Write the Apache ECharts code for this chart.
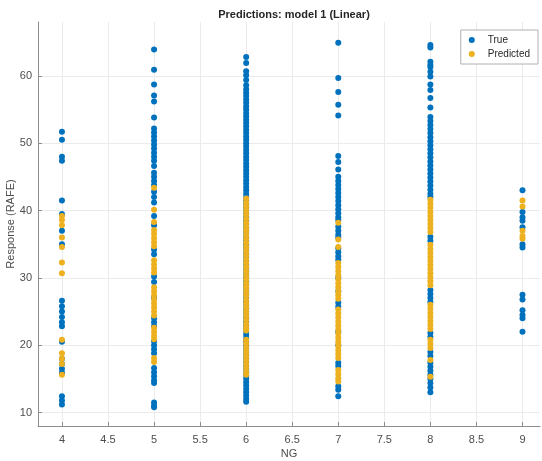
<!DOCTYPE html>
<html>
<head>
<meta charset="utf-8">
<script src="https://cdn.jsdelivr.net/npm/echarts@6/dist/echarts.min.js"></script>
<style>html,body{margin:0;padding:0;background:#fff;}#c{width:542px;height:461px;}</style>
</head>
<body>
<div id="c"></div>
<script>
const xTicks = [4, 4.5, 5, 5.5, 6, 6.5, 7, 7.5, 8, 8.5, 9];
const yTicks = [10, 20, 30, 40, 50, 60];

const trueX4 = [51.7, 50.5, 48.0, 47.4, 41.5, 39.5, 37.0, 35.0, 26.6, 25.8, 25.0, 24.2, 23.4, 22.8, 20.5, 18.0, 17.2, 16.5, 15.9, 12.4, 11.8, 11.2];
const predX4 = [39.2, 38.6, 37.8, 36.0, 34.6, 32.3, 30.7, 20.8, 18.8, 18.0, 17.2, 15.6];

const trueX5 = [63.9, 60.9, 58.7, 57.1, 56.2, 53.8, 52.2, 51.6, 51.0, 50.4, 49.8, 49.2, 48.6, 48.0, 47.4, 46.6, 45.6, 45.0, 44.4, 43.8, 42.8, 42.0, 41.2, 39.2, 37.8, 34.2, 33.5, 30.2, 29.4, 27.0, 24.0, 23.4, 22.8, 20.6, 20.0, 19.4, 18.8, 16.6, 16.0, 15.4, 14.8, 14.4, 11.5, 11.0, 10.8];
const predX5 = [43.4, 40.1, 38.3, 37.1, 36.5, 35.9, 35.3, 34.7, 32.6, 32.0, 31.4, 30.8, 28.6, 28.0, 27.4, 26.8, 26.2, 25.6, 25.0, 24.4, 22.6, 22.0, 21.4, 20.9, 18.1, 17.5];

const trueX6 = [62.8, 61.9, 60.7, 60.1, 59.4, 58.6, 58.0, 57.5, 57.0, 56.5, 56.0, 55.5, 55.0, 54.5, 54.0, 53.5, 53.0, 52.5, 52.0, 51.5, 51.0, 50.5, 50.0, 49.5, 49.0, 48.5, 48.0, 47.5, 47.0, 46.5, 46.0, 45.5, 45.0, 44.5, 44.0, 43.5, 43.0, 42.5, 42.0, 41.5, 41.0, 40.5, 40.0, 39.5, 39.0, 38.5, 38.0, 37.5, 37.0, 36.5, 36.0, 35.5, 35.0, 34.5, 34.0, 33.5, 33.0, 32.5, 32.0, 31.5, 31.0, 30.5, 30.0, 29.5, 29.0, 28.5, 28.0, 27.5, 27.0, 26.5, 26.0, 25.5, 25.0, 24.5, 24.0, 23.5, 23.0, 22.5, 22.0, 21.5, 21.0, 20.5, 20.0, 19.5, 19.0, 18.5, 18.0, 17.5, 17.0, 16.5, 16.0, 15.5, 15.0, 14.5, 14.0, 13.5, 13.0, 12.5, 12.0, 11.6];
const predX6 = [41.8, 41.2, 40.6, 40.0, 39.4, 38.8, 38.2, 37.6, 37.0, 36.4, 35.8, 35.2, 34.6, 34.0, 33.4, 32.8, 32.2, 31.6, 31.0, 30.4, 29.8, 29.2, 28.6, 28.0, 27.4, 26.8, 26.2, 25.6, 25.0, 24.4, 23.8, 23.2, 22.6, 22.2, 20.8, 20.2, 19.6, 19.0, 18.4, 17.8, 17.2, 16.6, 16.0, 15.6];

const trueX7 = [64.9, 59.7, 57.6, 55.7, 54.1, 48.1, 47.2, 46.1, 45.0, 44.4, 43.8, 43.2, 42.6, 42.0, 41.4, 40.8, 40.2, 39.6, 39.0, 38.6, 37.6, 37.0, 36.4, 36.0, 34.4, 33.8, 33.2, 32.7, 30.0, 28.0, 26.3, 25.7, 22.0, 20.0, 17.4, 16.9, 13.9, 13.4, 12.4];
const predX7 = [38.2, 35.7, 34.6, 32.2, 31.6, 31.0, 30.4, 29.8, 29.2, 28.6, 28.0, 27.4, 26.9, 25.3, 24.7, 24.1, 23.5, 22.9, 22.3, 21.7, 21.1, 20.5, 19.9, 19.3, 18.7, 18.1, 16.3, 15.7, 15.1, 14.6];

const trueX8 = [64.6, 64.2, 62.1, 61.6, 61.3, 60.6, 59.9, 58.7, 57.9, 56.7, 55.3, 53.9, 53.3, 52.7, 52.1, 51.5, 50.9, 50.3, 49.7, 49.1, 48.5, 47.9, 47.3, 46.7, 46.1, 45.5, 44.9, 44.3, 43.7, 43.1, 42.5, 42.0, 36.1, 35.5, 28.2, 27.6, 27.0, 26.4, 21.8, 21.2, 19.0, 18.4, 17.4, 16.8, 16.2, 15.6, 15.0, 14.4, 13.7, 13.0];
const predX8 = [41.6, 41.0, 40.4, 39.8, 39.2, 38.6, 38.0, 37.4, 36.8, 34.9, 34.3, 33.7, 33.1, 32.5, 31.9, 31.3, 30.7, 30.1, 29.5, 28.9, 26.0, 25.4, 24.8, 24.2, 23.6, 23.0, 22.4, 20.8, 20.2, 19.6, 17.8, 15.3];

const trueX9 = [43.0, 39.8, 39.0, 38.5, 37.5, 35.0, 34.5, 27.5, 26.8, 25.2, 24.5, 24.0, 22.0];
const predX9 = [41.5, 40.6, 37.0, 36.2, 35.8];

const trueGroups = {4: trueX4, 5: trueX5, 6: trueX6, 7: trueX7, 8: trueX8, 9: trueX9};
const predGroups = {4: predX4, 5: predX5, 6: predX6, 7: predX7, 8: predX8, 9: predX9};

function toPoints(groups) {
  const out = [];
  Object.keys(groups).forEach(k => {
    groups[k].forEach(v => out.push([Number(k), v]));
  });
  return out;
}

const chart = echarts.init(document.getElementById('c'), null, {renderer: 'canvas'});
const fontFam = '"Liberation Sans", Arial, Helvetica, sans-serif';
const axisGray = '#8c8c8c';
const labelColor = '#4d4d4d';
const gridColor = '#ebebeb';

chart.setOption({
  animation: false,
  backgroundColor: '#fff',
  title: {
    text: 'Predictions: model 1 (Linear)',
    left: 289, top: 4, textAlign: 'center',
    textStyle: {fontFamily: fontFam, fontSize: 11, fontWeight: 'bold', color: '#262626'}
  },
  legend: {
    orient: 'vertical', right: 4, top: 30,
    icon: 'circle', itemWidth: 6, itemHeight: 6, itemGap: 4,
    padding: [5, 8, 5, 8],
    borderColor: '#b0b0b0', borderWidth: 1, backgroundColor: '#fff',
    textStyle: {fontFamily: fontFam, fontSize: 10, color: '#262626', padding: [0, 0, 0, 8]},
    data: ['True', 'Predicted']
  },
  grid: {left: 38, right: 2, top: 22, bottom: 35, containLabel: false, outerBoundsMode: 'none'},
  xAxis: {
    type: 'value', min: 3.74, max: 9.19,
    name: 'NG', nameLocation: 'middle', nameGap: 22, nameMoveOverlap: false,
    nameTextStyle: {fontFamily: fontFam, fontSize: 11, color: labelColor},
    axisLine: {show: true, lineStyle: {color: axisGray}},
    axisTick: {show: true, inside: true, length: 4, lineStyle: {color: axisGray}, customValues: xTicks},
    axisLabel: {fontFamily: fontFam, fontSize: 11, color: labelColor, margin: 8, customValues: xTicks},
    splitLine: {show: true, lineStyle: {color: gridColor, width: 1}}
  },
  yAxis: {
    type: 'value', min: 8, max: 68,
    name: 'Response (RAFE)', nameLocation: 'middle', nameGap: 22, nameMoveOverlap: false,
    nameTextStyle: {fontFamily: fontFam, fontSize: 11, color: labelColor},
    axisLine: {show: true, lineStyle: {color: axisGray}},
    axisTick: {show: true, inside: true, length: 4, lineStyle: {color: axisGray}, customValues: yTicks},
    axisLabel: {fontFamily: fontFam, fontSize: 11, color: labelColor, margin: 6, customValues: yTicks},
    splitLine: {show: true, lineStyle: {color: gridColor, width: 1}}
  },
  series: [
    {name: 'True', type: 'scatter', data: toPoints(trueGroups), symbolSize: 6,
     itemStyle: {color: '#0072BD', opacity: 1}},
    {name: 'Predicted', type: 'scatter', data: toPoints(predGroups), symbolSize: 6,
     itemStyle: {color: '#EDB120', opacity: 1}}
  ]
});
</script>
</body>
</html>
